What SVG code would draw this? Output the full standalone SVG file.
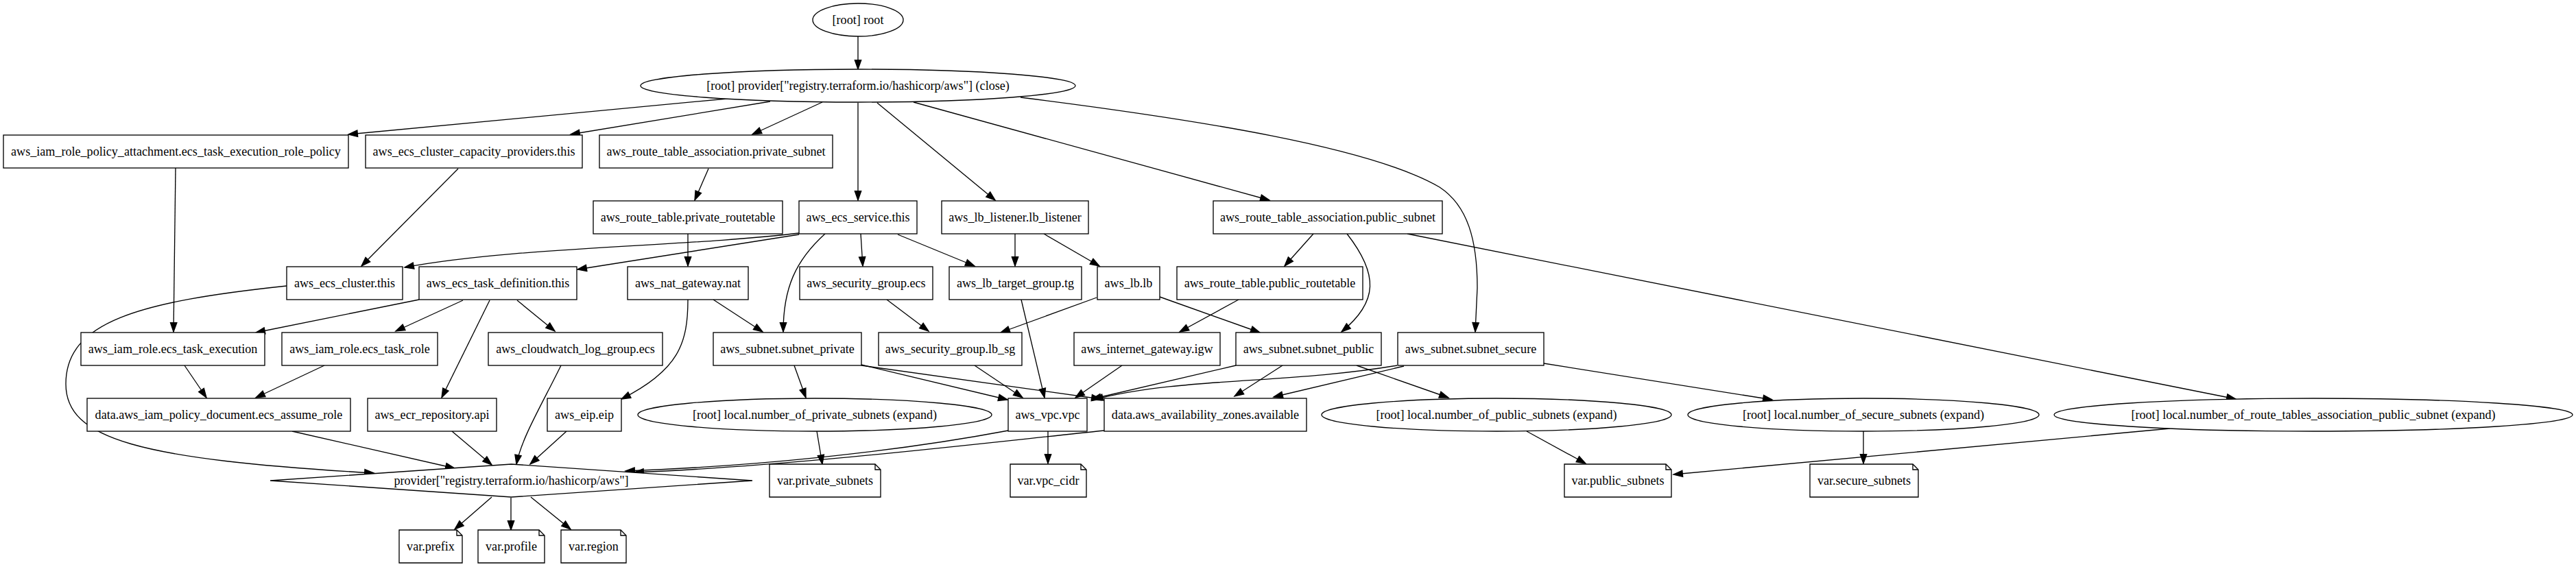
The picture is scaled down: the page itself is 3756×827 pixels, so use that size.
<svg xmlns="http://www.w3.org/2000/svg" width="3756" height="827" viewBox="0 0 3756 827">
<style>
rect.b,ellipse,polygon.n,path.note{fill:#fff;stroke:#000;stroke-width:1.33}
path.fold{fill:none;stroke:#000;stroke-width:1.33}
text{font-family:"Liberation Serif","Times New Roman",serif;font-size:18.1px;text-anchor:middle;fill:#000}
#edges path{fill:none;stroke:#000;stroke-width:1.33;marker-end:url(#ah)}
</style>
<defs>
<marker id="ah" markerUnits="userSpaceOnUse" markerWidth="14" markerHeight="10" refX="13.3" refY="4.67" orient="auto" overflow="visible">
<path d="M0,0 L13.3,4.67 L0,9.33 Z" fill="#000" stroke="#000" stroke-width="1.33"/>
</marker>
</defs>
<rect x="0" y="0" width="3756" height="827" fill="#fff" stroke="none"/>
<g id="edges">
<path d="M1251,53 L1251,101"/>
<path d="M1060,144 L508,196"/>
<path d="M1123,148 L832,196"/>
<path d="M1199,149 L1097,196"/>
<path d="M1251,150 L1251,292"/>
<path d="M1279,150 L1451,292"/>
<path d="M1332,149 L1851,292"/>
<path d="M1488,142 C1750,175 2000,215 2099,273 C2140,300 2154,350 2154,420 L2151,484"/>
<path d="M256,245 L253,484"/>
<path d="M668,246 L527,388"/>
<path d="M1033,246 L1013,292"/>
<path d="M1003,341 L1003,388"/>
<path d="M1165,340 C1000,360 750,360 590,390"/>
<path d="M1165,342 L842,393"/>
<path d="M1203,341 C1160,380 1142,420 1142,484"/>
<path d="M1255,341 L1258,388"/>
<path d="M1309,342 L1421,388"/>
<path d="M1480,341 L1480,388"/>
<path d="M1522,341 L1603,388"/>
<path d="M1915,341 L1873,388"/>
<path d="M1964,341 C2010,400 2010,440 1956,484"/>
<path d="M2052,341 L3260,582"/>
<path d="M418,417 C200,440 96,470 96,560 C96,640 200,670 545,690"/>
<path d="M611,437 L373,485"/>
<path d="M675,438 L577,483"/>
<path d="M714,438 L644,580"/>
<path d="M754,438 L809,483"/>
<path d="M1040,437 L1112,484"/>
<path d="M1003,437 C1003,500 990,540 906,582"/>
<path d="M1293,437 L1354,483"/>
<path d="M1489,437 L1523,580"/>
<path d="M1599,434 L1459,485"/>
<path d="M1691,433 L1837,485"/>
<path d="M1806,437 L1720,484"/>
<path d="M1158,533 L1175,580"/>
<path d="M1256,532 L1469,583"/>
<path d="M1256,533 L1605,582"/>
<path d="M1802,533 L1592,582"/>
<path d="M1870,533 L1800,578"/>
<path d="M1978,533 L2112,580"/>
<path d="M2037,533 C1880,560 1720,550 1595,583"/>
<path d="M2047,534 L1857,579"/>
<path d="M2251,530 L2584,583"/>
<path d="M1636,533 L1568,580"/>
<path d="M1421,533 L1491,580"/>
<path d="M269,533 L301,580"/>
<path d="M473,533 L373,580"/>
<path d="M426,629 L663,683"/>
<path d="M659,629 L717,678"/>
<path d="M818,533 C790,590 760,640 753,677"/>
<path d="M826,629 L773,677"/>
<path d="M1470,628 C1300,660 1100,680 912,687"/>
<path d="M1610,628 C1400,650 1150,680 925,689"/>
<path d="M1191,629 L1199,677"/>
<path d="M1528,629 L1528,676"/>
<path d="M2226,629 L2312,676"/>
<path d="M2717,629 L2717,676"/>
<path d="M3164,625 L2440,692"/>
<path d="M717,725 L663,772"/>
<path d="M745,726 L745,773"/>
<path d="M774,725 L832,772"/>
</g>
<g id="root"><ellipse cx="1251" cy="29" rx="66" ry="24"/><text x="1251" y="35">[root] root</text></g>
<g id="provider_close"><ellipse cx="1251" cy="125" rx="317" ry="24"/><text x="1251" y="131">[root] provider["registry.terraform.io/hashicorp/aws"] (close)</text></g>
<g id="iam_policy_attachment"><rect class="b" x="5" y="197" width="503" height="48"/><text x="256.5" y="227">aws_iam_role_policy_attachment.ecs_task_execution_role_policy</text></g>
<g id="ecs_cluster_capacity_providers"><rect class="b" x="533" y="197" width="316" height="48"/><text x="691" y="227">aws_ecs_cluster_capacity_providers.this</text></g>
<g id="rta_private"><rect class="b" x="874" y="197" width="340" height="48"/><text x="1044" y="227">aws_route_table_association.private_subnet</text></g>
<g id="rt_private"><rect class="b" x="865" y="293" width="276" height="48"/><text x="1003" y="323">aws_route_table.private_routetable</text></g>
<g id="ecs_service"><rect class="b" x="1165" y="293" width="172" height="48"/><text x="1251" y="323">aws_ecs_service.this</text></g>
<g id="lb_listener"><rect class="b" x="1373" y="293" width="214" height="48"/><text x="1480" y="323">aws_lb_listener.lb_listener</text></g>
<g id="rta_public"><rect class="b" x="1769" y="293" width="334" height="48"/><text x="1936" y="323">aws_route_table_association.public_subnet</text></g>
<g id="ecs_cluster"><rect class="b" x="418" y="389" width="169" height="48"/><text x="502.5" y="419">aws_ecs_cluster.this</text></g>
<g id="ecs_task_definition"><rect class="b" x="611" y="389" width="230" height="48"/><text x="726" y="419">aws_ecs_task_definition.this</text></g>
<g id="nat_gateway"><rect class="b" x="915" y="389" width="176" height="48"/><text x="1003" y="419">aws_nat_gateway.nat</text></g>
<g id="sg_ecs"><rect class="b" x="1166" y="389" width="194" height="48"/><text x="1263" y="419">aws_security_group.ecs</text></g>
<g id="lb_target_group"><rect class="b" x="1384" y="389" width="193" height="48"/><text x="1480.5" y="419">aws_lb_target_group.tg</text></g>
<g id="lb"><rect class="b" x="1600" y="389" width="91" height="48"/><text x="1645.5" y="419">aws_lb.lb</text></g>
<g id="rt_public"><rect class="b" x="1716" y="389" width="271" height="48"/><text x="1851.5" y="419">aws_route_table.public_routetable</text></g>
<g id="iam_role_exec"><rect class="b" x="118" y="485" width="268" height="48"/><text x="252" y="515">aws_iam_role.ecs_task_execution</text></g>
<g id="iam_role_task"><rect class="b" x="411" y="485" width="227" height="48"/><text x="524.5" y="515">aws_iam_role.ecs_task_role</text></g>
<g id="cloudwatch"><rect class="b" x="712" y="485" width="254" height="48"/><text x="839" y="515">aws_cloudwatch_log_group.ecs</text></g>
<g id="subnet_private"><rect class="b" x="1040" y="485" width="216" height="48"/><text x="1148" y="515">aws_subnet.subnet_private</text></g>
<g id="sg_lb"><rect class="b" x="1281" y="485" width="209" height="48"/><text x="1385.5" y="515">aws_security_group.lb_sg</text></g>
<g id="igw"><rect class="b" x="1566" y="485" width="213" height="48"/><text x="1672.5" y="515">aws_internet_gateway.igw</text></g>
<g id="subnet_public"><rect class="b" x="1802" y="485" width="212" height="48"/><text x="1908" y="515">aws_subnet.subnet_public</text></g>
<g id="subnet_secure"><rect class="b" x="2038" y="485" width="213" height="48"/><text x="2144.5" y="515">aws_subnet.subnet_secure</text></g>
<g id="policy_doc"><rect class="b" x="127" y="581" width="384" height="48"/><text x="319" y="611">data.aws_iam_policy_document.ecs_assume_role</text></g>
<g id="ecr"><rect class="b" x="536" y="581" width="188" height="48"/><text x="630" y="611">aws_ecr_repository.api</text></g>
<g id="eip"><rect class="b" x="798" y="581" width="108" height="48"/><text x="852" y="611">aws_eip.eip</text></g>
<g id="local_private"><ellipse cx="1188" cy="605" rx="258" ry="24"/><text x="1188" y="611">[root] local.number_of_private_subnets (expand)</text></g>
<g id="vpc"><rect class="b" x="1470" y="581" width="115" height="48"/><text x="1527.5" y="611">aws_vpc.vpc</text></g>
<g id="az"><rect class="b" x="1610" y="581" width="295" height="48"/><text x="1757.5" y="611">data.aws_availability_zones.available</text></g>
<g id="local_public"><ellipse cx="2182" cy="605" rx="255" ry="24"/><text x="2182" y="611">[root] local.number_of_public_subnets (expand)</text></g>
<g id="local_secure"><ellipse cx="2717" cy="605" rx="256" ry="24"/><text x="2717" y="611">[root] local.number_of_secure_subnets (expand)</text></g>
<g id="local_rta"><ellipse cx="3373" cy="605" rx="378" ry="24"/><text x="3373" y="611">[root] local.number_of_route_tables_association_public_subnet (expand)</text></g>
<g id="provider"><polygon class="n" points="394,701 745.5,677 1097,701 745.5,725"/><text x="745.5" y="707">provider["registry.terraform.io/hashicorp/aws"]</text></g>
<g id="var_private_subnets"><path class="note" d="M1122,677 H1276 L1284,685 V725 H1122 Z"/><path class="fold" d="M1276,677 V685 H1284"/><text x="1203" y="707">var.private_subnets</text></g>
<g id="var_vpc_cidr"><path class="note" d="M1473,677 H1576 L1584,685 V725 H1473 Z"/><path class="fold" d="M1576,677 V685 H1584"/><text x="1528.5" y="707">var.vpc_cidr</text></g>
<g id="var_public_subnets"><path class="note" d="M2281,677 H2429 L2437,685 V725 H2281 Z"/><path class="fold" d="M2429,677 V685 H2437"/><text x="2359" y="707">var.public_subnets</text></g>
<g id="var_secure_subnets"><path class="note" d="M2639,677 H2789 L2797,685 V725 H2639 Z"/><path class="fold" d="M2789,677 V685 H2797"/><text x="2718" y="707">var.secure_subnets</text></g>
<g id="var_prefix"><path class="note" d="M582,773 H666 L674,781 V821 H582 Z"/><path class="fold" d="M666,773 V781 H674"/><text x="628" y="803">var.prefix</text></g>
<g id="var_profile"><path class="note" d="M697,773 H786 L794,781 V821 H697 Z"/><path class="fold" d="M786,773 V781 H794"/><text x="745.5" y="803">var.profile</text></g>
<g id="var_region"><path class="note" d="M818,773 H905 L913,781 V821 H818 Z"/><path class="fold" d="M905,773 V781 H913"/><text x="865.5" y="803">var.region</text></g>
</svg>
